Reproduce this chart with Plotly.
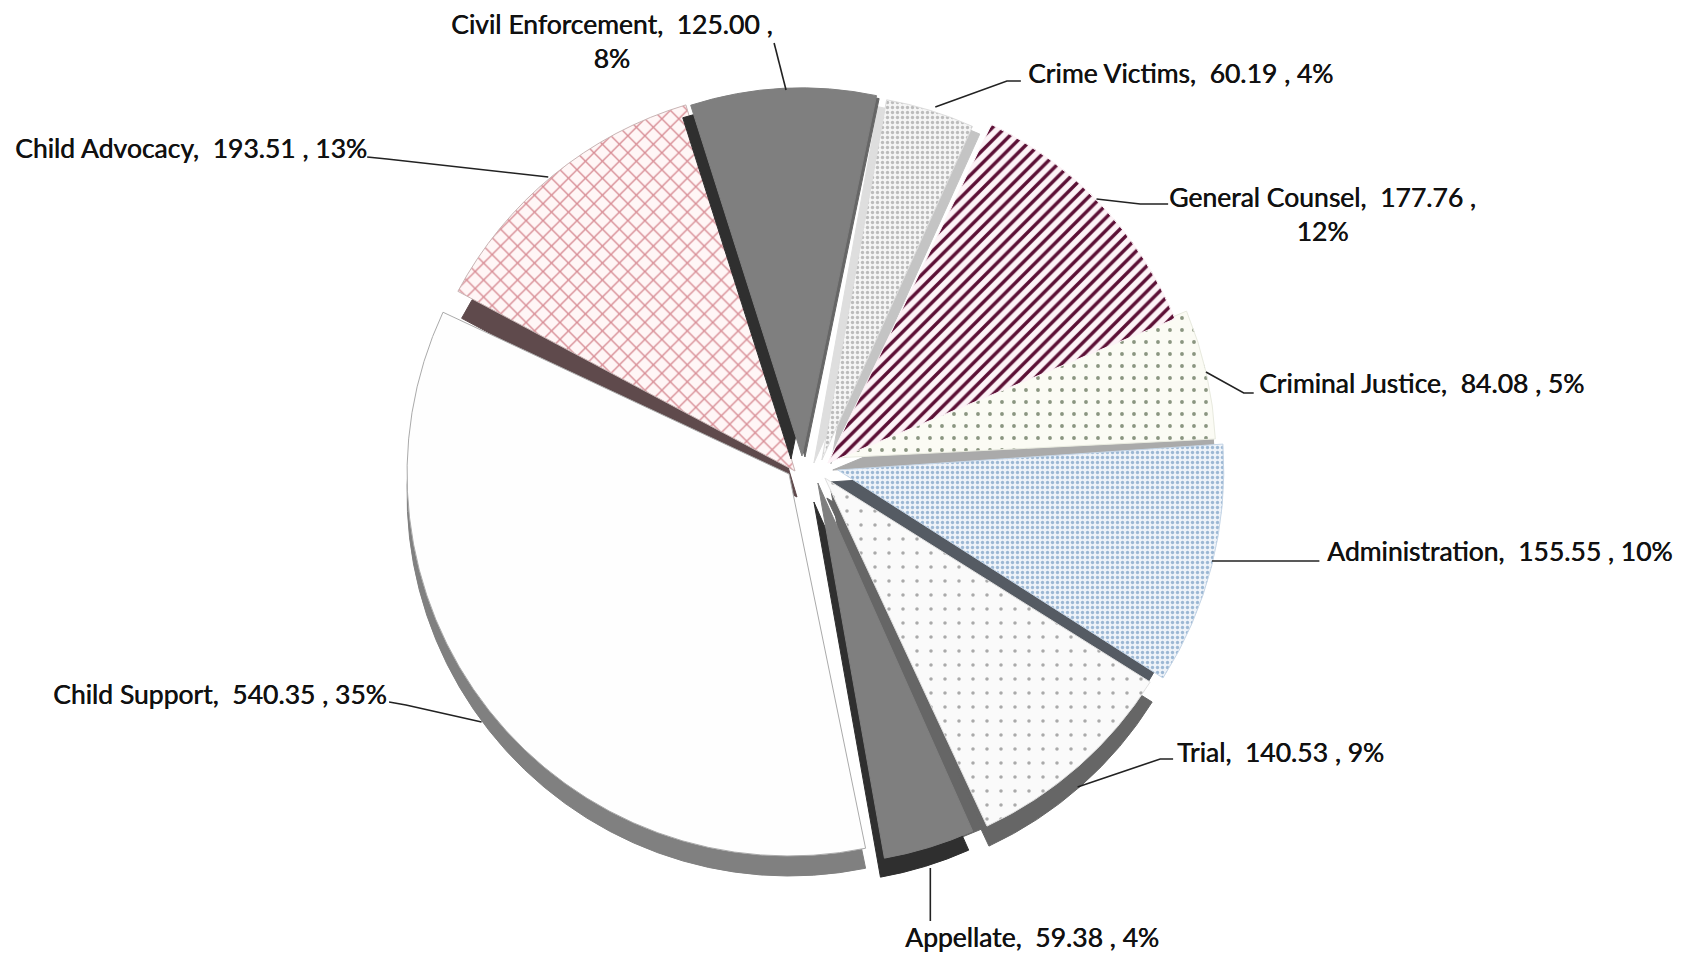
import plotly.graph_objects as go

W, H = 1685, 954
SX = 0.995  # horizontal fit of the layout positions below

CATEGORIES = ["Civil Enforcement", "Crime Victims", "General Counsel", "Criminal Justice",
              "Administration", "Trial", "Appellate", "Child Support", "Child Advocacy"]
VALUES = [125.00, 60.19, 177.76, 84.08, 155.55, 140.53, 59.38, 540.35, 193.51]
TOTAL = sum(VALUES)
ROTATION = -17.6

# per-slice top face: centre x, centre y, radius, rotation tweak (foreshortening)
GEOM = [(806, 456, 368, 0), (826, 460, 366, -1.5), (832, 463, 376, 0), (837, 458, 383, 0),
        (842, 470, 386, -1), (829, 478, 384, -1.5), (822, 483, 381, -0.5), (793, 474, 382, -2),
        (799, 471, 382, 1)]

# per-slice top face style: pattern shape, fg, bg, size, solidity, outline
TOPS = [
    ("", "#7f7f7f", "#7f7f7f", 8, 0.3, "#7f7f7f"),
    (".", "#bcbcbc", "#f5f5f5", 5, 0.35, "#dddddd"),
    ("/", "#5c0f35", "#fdf3f7", 9, 0.38, "#fdf3f7"),
    (".", "#8a9580", "#fbfbf4", 12, 0.08, "#e8eadf"),
    (".", "#9db8d4", "#eef3f9", 5, 0.35, "#c5d5e6"),
    (".", "#aaaaaa", "#fafafa", 14, 0.05, "#e0e0e0"),
    ("", "#7f7f7f", "#7f7f7f", 8, 0.3, "#7f7f7f"),
    ("", "#ffffff", "#fefefe", 8, 0.3, "#aaaaaa"),
    ("x", "#d88e96", "#fff6f6", 12, 0.22, "#c8b4b4"),
]

# extruded walls: slice index, dx, dy, radius change, colour
BACK_WALLS = [(8, 2, 26, -2, "#5f4a4c")]
WALLS = [
    (0, -11, 3, -10, "#2f2f2f"),
    (1, -8, 3, -4, "#dedede"),
    (0, 3, 1, -2, "#666666"),
    (1, 9, 4, -4, "#c4c4c4"),
    (3, 0, 12, -1, "#aaaaaa"),
    (4, -8, 12, -10, "#555b63"),
    (5, 2, 20, 0, "#666666"),
    (6, 12, 1, -4, "#666666"),
    (6, -4, 19, 0, "#2f2f2f"),
    (7, 0, 20, 0, "#808080"),
]
DRAW_ORDER = [8, 7, 6, 5, 4, 3, 2, 1, 0]

# label centre x, y
LABEL_POS = [(615, 41), (1186, 73), (1329, 214), (1429, 383), (1508, 551),
             (1287, 752), (1037, 937), (221, 694), (192, 148)]
LABEL_BREAK = [True, False, True, False, False, False, False, False, False]

LEADERS = [
    [(778, 43), (790, 90)],
    [(1026, 81), (1012, 81), (940, 107)],
    [(1174, 204), (1146, 204), (1102, 199)],
    [(1260, 393), (1250, 393), (1212, 372)],
    [(1326, 561), (1218, 561)],
    [(1179, 759), (1166, 759), (1083, 787)],
    [(935, 921), (935, 868)],
    [(391, 702), (408, 705), (484, 722)],
    [(369, 157), (389, 159), (551, 177)],
]

CLEAR = "rgba(0,0,0,0)"
n = len(VALUES)


def domain(cx, cy, r):
    cx = cx * SX
    return dict(x=[(cx - r) / W, (cx + r) / W], y=[1 - (cy + r) / H, 1 - (cy - r) / H])


def one_slice(i, geom, tweak, color, shape="", fg=None, bg=None, size=8, solidity=0.3, line=None):
    colors = [CLEAR] * n
    colors[i] = color
    shapes = [""] * n
    shapes[i] = shape
    fgs = [CLEAR] * n
    fgs[i] = fg or color
    bgs = [CLEAR] * n
    bgs[i] = bg or color
    lines = [CLEAR] * n
    lines[i] = line or color
    widths = [0] * n
    widths[i] = 1
    return go.Pie(
        labels=CATEGORIES, values=VALUES, sort=False, direction="clockwise",
        rotation=ROTATION + tweak,
        domain=domain(*geom), textinfo="none", hoverinfo="skip", showlegend=False,
        marker=dict(colors=colors, line=dict(color=lines, width=widths),
                    pattern=dict(shape=shapes, fgcolor=fgs, bgcolor=bgs, size=size,
                                 solidity=solidity, fillmode="replace")),
    )


def add_wall(fig, wall):
    i, dx, dy, dr, color = wall
    cx, cy, r, tweak = GEOM[i]
    fig.add_trace(one_slice(i, (cx + dx, cy + dy, r + dr), tweak, color))


def add_top(fig, i):
    shape, fg, bg, size, sol, line = TOPS[i]
    cx, cy, r, tweak = GEOM[i]
    fig.add_trace(one_slice(i, (cx, cy, r), tweak, bg, shape, fg, bg, size, sol, line))


fig = go.Figure()
for wall in BACK_WALLS:
    add_wall(fig, wall)
add_top(fig, 8)
for wall in WALLS:
    add_wall(fig, wall)
for i in DRAW_ORDER[1:]:
    add_top(fig, i)

annotations = []
for name, v, (x, y), brk in zip(CATEGORIES, VALUES, LABEL_POS, LABEL_BREAK):
    sep = "<br>" if brk else " "
    text = f"{name},  {v:.2f} ,{sep}{round(v / TOTAL * 100)}%"
    annotations.append(dict(text=text, x=x * SX / W, y=1 - y / H, xref="paper", yref="paper",
                            xanchor="center", yanchor="middle", showarrow=False,
                            font=dict(family="Lato", size=26.5, color="#111111",
                                      shadow="0.5px 0 0 #111111")))

shapes = []
for pts in LEADERS:
    path = "M " + " L ".join(f"{px * SX / W:.5f} {1 - py / H:.5f}" for px, py in pts)
    shapes.append(dict(type="path", path=path, xref="paper", yref="paper",
                       line=dict(color="#222222", width=1.6)))

fig.update_layout(width=W, height=H, margin=dict(l=0, r=0, t=0, b=0),
                  paper_bgcolor="white", plot_bgcolor="white",
                  annotations=annotations, shapes=shapes, showlegend=False)
fig.write_html("out.html", config={"displayModeBar": False},
               post_script="document.body.style.margin='0';")
